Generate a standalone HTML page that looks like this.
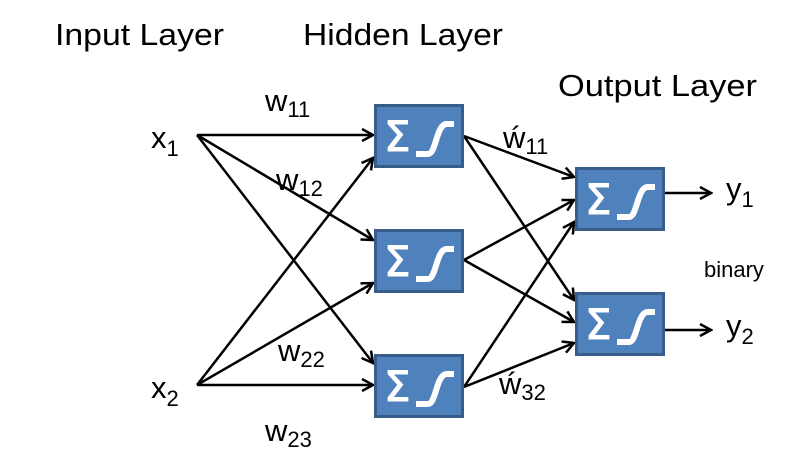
<!DOCTYPE html>
<html><head><meta charset="utf-8"><style>
html,body{margin:0;padding:0;background:#fff}
svg{display:block}
text{font-family:"Liberation Sans",sans-serif;fill:#000}
</style></head><body>
<svg width="795" height="469" viewBox="0 0 795 469">
<defs>
<marker id="ah" markerWidth="14" markerHeight="14" refX="12" refY="7" orient="auto" markerUnits="userSpaceOnUse">
<path d="M1,1 L12,7 L1,13" fill="none" stroke="#000" stroke-width="2.5"/>
</marker>
<g id="neuron">
<rect x="1.5" y="1.5" width="87" height="61" fill="#4f81bd" stroke="#385d8a" stroke-width="3"/>
<text x="10" y="47" style="font-size:42px;fill:#fff;font-family:'DejaVu Sans',sans-serif;stroke:#fff;stroke-width:1">Σ</text>
<path d="M42,50 L54,50 C62,50 62,22 72,20 L80,20" fill="none" stroke="#fff" stroke-width="6"/>
</g>
</defs>

<text x="55" y="45" style="font-size:31px" textLength="169" lengthAdjust="spacingAndGlyphs">Input Layer</text>
<text x="303" y="45" style="font-size:31px" textLength="200" lengthAdjust="spacingAndGlyphs">Hidden Layer</text>
<text x="558" y="96" style="font-size:31px" textLength="199" lengthAdjust="spacingAndGlyphs">Output Layer</text>

<g stroke="#000" stroke-width="2.5" fill="none">
<line x1="197" y1="135" x2="373" y2="135" marker-end="url(#ah)"/>
<line x1="197" y1="135" x2="373" y2="240" marker-end="url(#ah)"/>
<line x1="197" y1="135" x2="373" y2="363" marker-end="url(#ah)"/>
<line x1="197" y1="385" x2="373" y2="158" marker-end="url(#ah)"/>
<line x1="197" y1="385" x2="373" y2="283" marker-end="url(#ah)"/>
<line x1="197" y1="385" x2="373" y2="385" marker-end="url(#ah)"/>
<line x1="464" y1="136" x2="574" y2="177" marker-end="url(#ah)"/>
<line x1="464" y1="136" x2="574" y2="300" marker-end="url(#ah)"/>
<line x1="464" y1="260" x2="574" y2="200" marker-end="url(#ah)"/>
<line x1="464" y1="260" x2="574" y2="322" marker-end="url(#ah)"/>
<line x1="464" y1="387" x2="574" y2="222" marker-end="url(#ah)"/>
<line x1="464" y1="387" x2="574" y2="343" marker-end="url(#ah)"/>
<line x1="664" y1="193" x2="711" y2="193" marker-end="url(#ah)"/>
<line x1="664" y1="330" x2="711" y2="330" marker-end="url(#ah)"/>
</g>

<use href="#neuron" x="374" y="104"/>
<use href="#neuron" x="374" y="229"/>
<use href="#neuron" x="374" y="354"/>
<use href="#neuron" x="575" y="167"/>
<use href="#neuron" x="575" y="292"/>

<text x="151" y="148" style="font-size:31px">x<tspan dy="8" style="font-size:22px">1</tspan></text>
<text x="151" y="398" style="font-size:31px">x<tspan dy="8" style="font-size:22px">2</tspan></text>
<text x="265" y="111" style="font-size:31px">w<tspan dy="6" style="font-size:22px">11</tspan></text>
<text x="276" y="190" style="font-size:31px">w<tspan dy="6" style="font-size:22px">12</tspan></text>
<text x="278" y="361" style="font-size:31px">w<tspan dy="6" style="font-size:22px">22</tspan></text>
<text x="265" y="441" style="font-size:31px">w<tspan dy="6" style="font-size:22px">23</tspan></text>
<text x="503" y="148" style="font-size:31px">ẃ<tspan dy="6" style="font-size:22px">11</tspan></text>
<text x="499" y="394" style="font-size:31px">ẃ<tspan dy="6" style="font-size:22px">32</tspan></text>
<text x="726" y="199" style="font-size:31px">y<tspan dy="8" style="font-size:22px">1</tspan></text>
<text x="726" y="336" style="font-size:31px">y<tspan dy="8" style="font-size:22px">2</tspan></text>
<text x="704" y="277" style="font-size:22px">binary</text>
</svg>
</body></html>
